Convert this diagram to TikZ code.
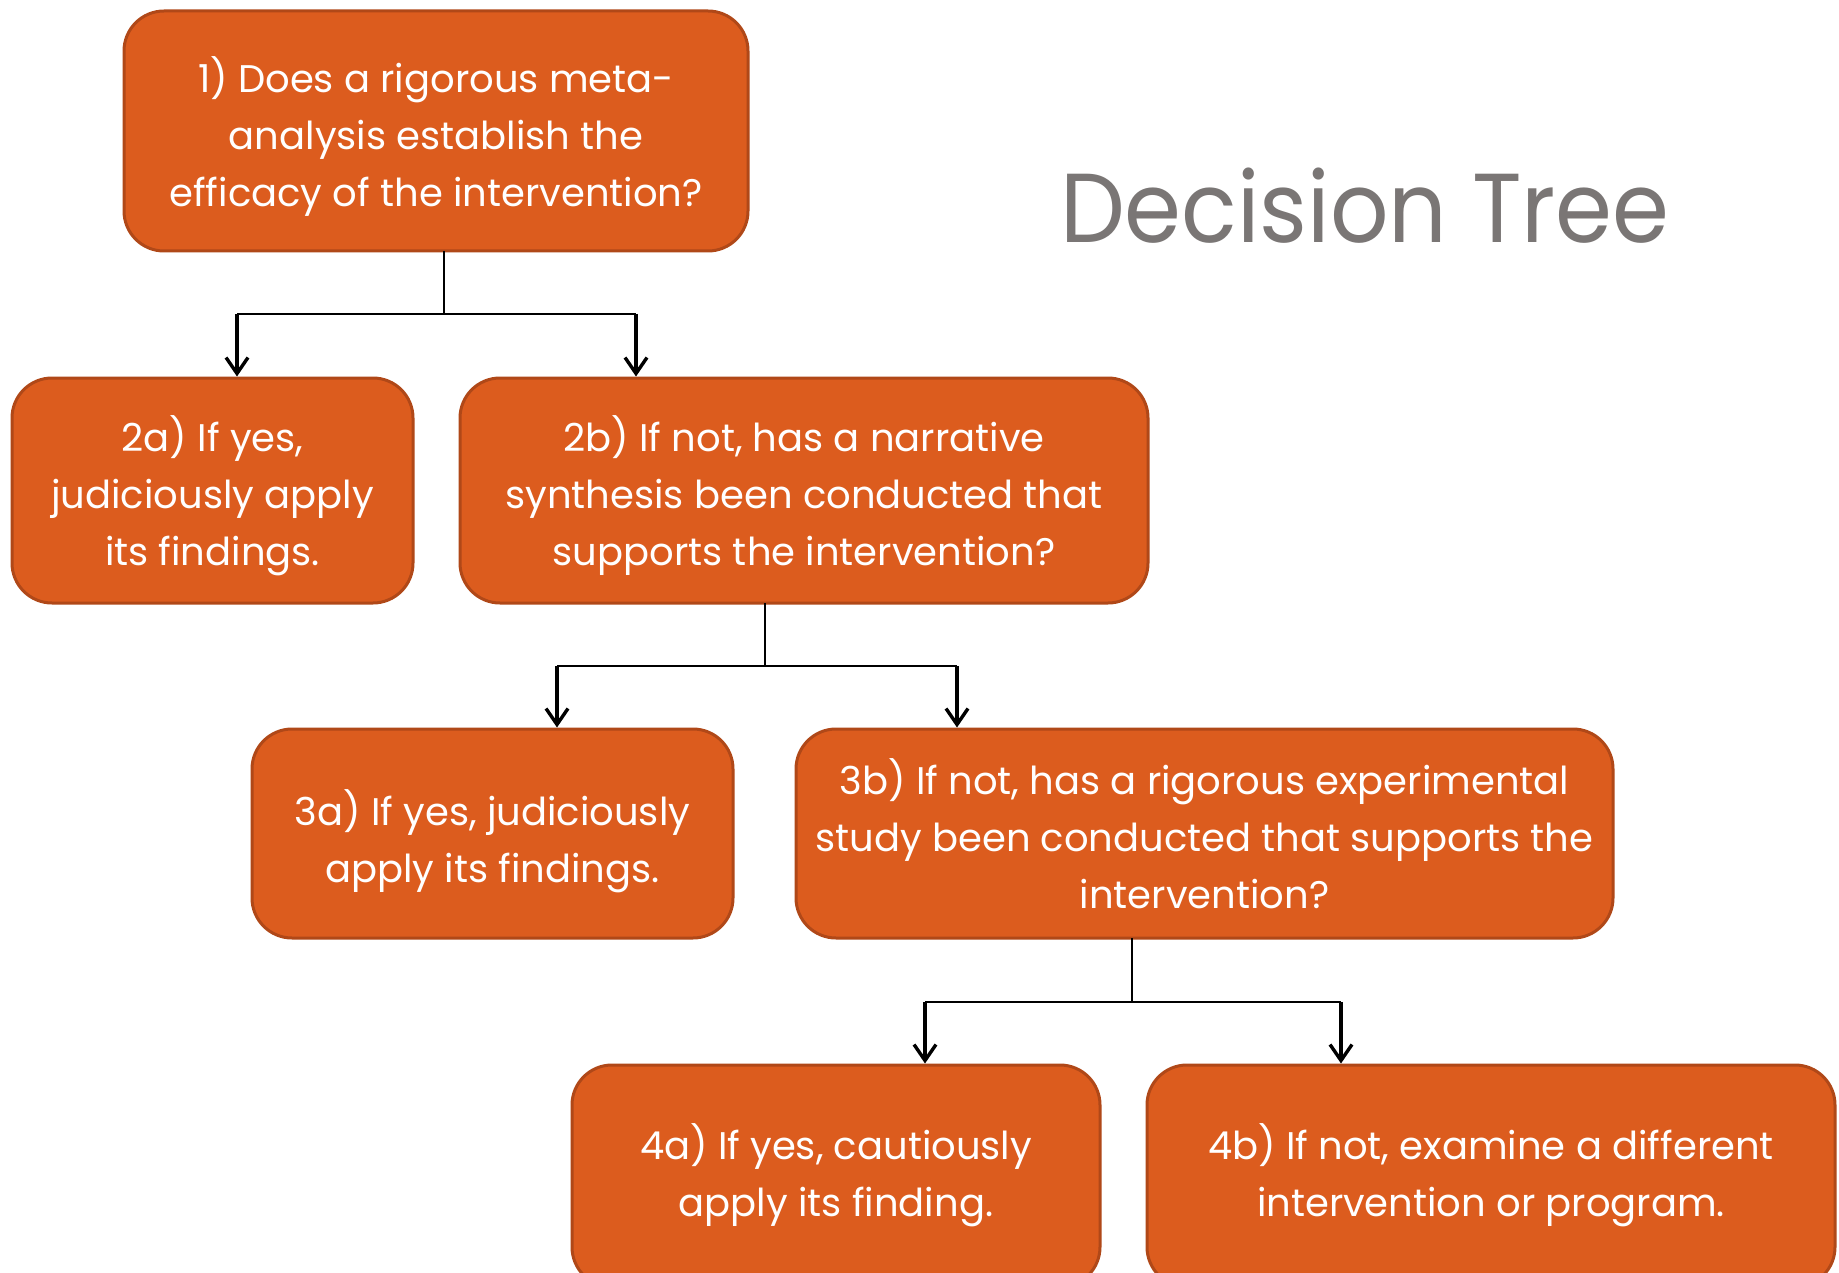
\documentclass[tikz,border=0pt]{standalone}
\usepackage{fontspec}
\setmainfont{Poppins}
\usetikzlibrary{arrows.meta}
\definecolor{boxfill}{RGB}{220,92,30}
\definecolor{boxedge}{RGB}{176,72,24}
\definecolor{titlegray}{RGB}{122,118,117}
\newcommand{\boxtext}[2][-7pt]{\raisebox{#1}[\height][\depth]{\begin{tabular}{@{}c@{}}#2\end{tabular}}}
\tikzset{
  dbox/.style={draw=boxedge, line width=3pt, fill=boxfill, rounded corners=40pt,
    text=white, align=center, inner sep=0pt,
    font=\fontsize{38.5}{57}\selectfont},
  conn/.style={line width=2.8pt, black},
  arr/.style={line width=3.4pt, black, -{Straight Barb[length=16pt,width=22pt,line width=3.4pt]}}
}
\begin{document}
\begin{tikzpicture}[x=1pt,y=-1pt]
\useasboundingbox (0,0) rectangle (1839,1273);
\clip (0,0) rectangle (1839,1273);
\fill[white] (0,0) rectangle (1839,1273);

\node[dbox, minimum width=624pt, minimum height=240pt] (n1) at (436,131)
  {\boxtext{1) Does a rigorous meta-\\analysis establish the\\efficacy of the intervention?}};
\node[dbox, minimum width=401pt, minimum height=225pt] (n2a) at (212.5,490.5)
  {\boxtext{2a) If yes,\\judiciously apply\\its findings.}};
\node[dbox, minimum width=688pt, minimum height=225pt] (n2b) at (804,490.5)
  {\boxtext{2b) If not, has a narrative\\synthesis been conducted that\\supports the intervention?}};
\node[dbox, minimum width=481pt, minimum height=209pt] (n3a) at (492.5,833.5)
  {\boxtext[-9pt]{3a) If yes, judiciously\\apply its findings.}};
\node[dbox, minimum width=817pt, minimum height=209pt] (n3b) at (1204.5,833.5)
  {\boxtext{3b) If not, has a rigorous experimental\\study been conducted that supports the\\intervention?}};
\node[dbox, minimum width=528pt, minimum height=222pt] (n4a) at (836,1176)
  {\boxtext[-1pt]{4a) If yes, cautiously\\apply its finding.}};
\node[dbox, minimum width=688pt, minimum height=222pt] (n4b) at (1491,1176)
  {\boxtext[-1pt]{4b) If not, examine a different\\intervention or program.}};

\node[anchor=base west, text=titlegray, inner sep=0pt, font=\fontsize{98}{110}\selectfont\addfontfeature{FakeStretch=0.935}] (title) at (1060,243) {Decision Tree};

% level 1
\coordinate (s1) at (444,251);
\coordinate (j1) at (444,314);
\coordinate (a1) at (237,314);
\coordinate (b1) at (636,314);
\draw[conn] (s1) -- (j1);
\draw[conn] (a1) -- (b1);
\draw[arr] (a1) -- (a1 |- n2a.north);
\draw[arr] (b1) -- (b1 |- n2b.north);
% level 2
\coordinate (s2) at (765,603);
\coordinate (j2) at (765,666);
\coordinate (a2) at (557,666);
\coordinate (b2) at (957,666);
\draw[conn] (s2) -- (j2);
\draw[conn] (a2) -- (b2);
\draw[arr] (a2) -- (a2 |- n3a.north);
\draw[arr] (b2) -- (b2 |- n3b.north);
% level 3
\coordinate (s3) at (1132,938);
\coordinate (j3) at (1132,1002);
\coordinate (a3) at (925,1002);
\coordinate (b3) at (1341,1002);
\draw[conn] (s3) -- (j3);
\draw[conn] (a3) -- (b3);
\draw[arr] (a3) -- (a3 |- n4a.north);
\draw[arr] (b3) -- (b3 |- n4b.north);
\end{tikzpicture}
\end{document}
